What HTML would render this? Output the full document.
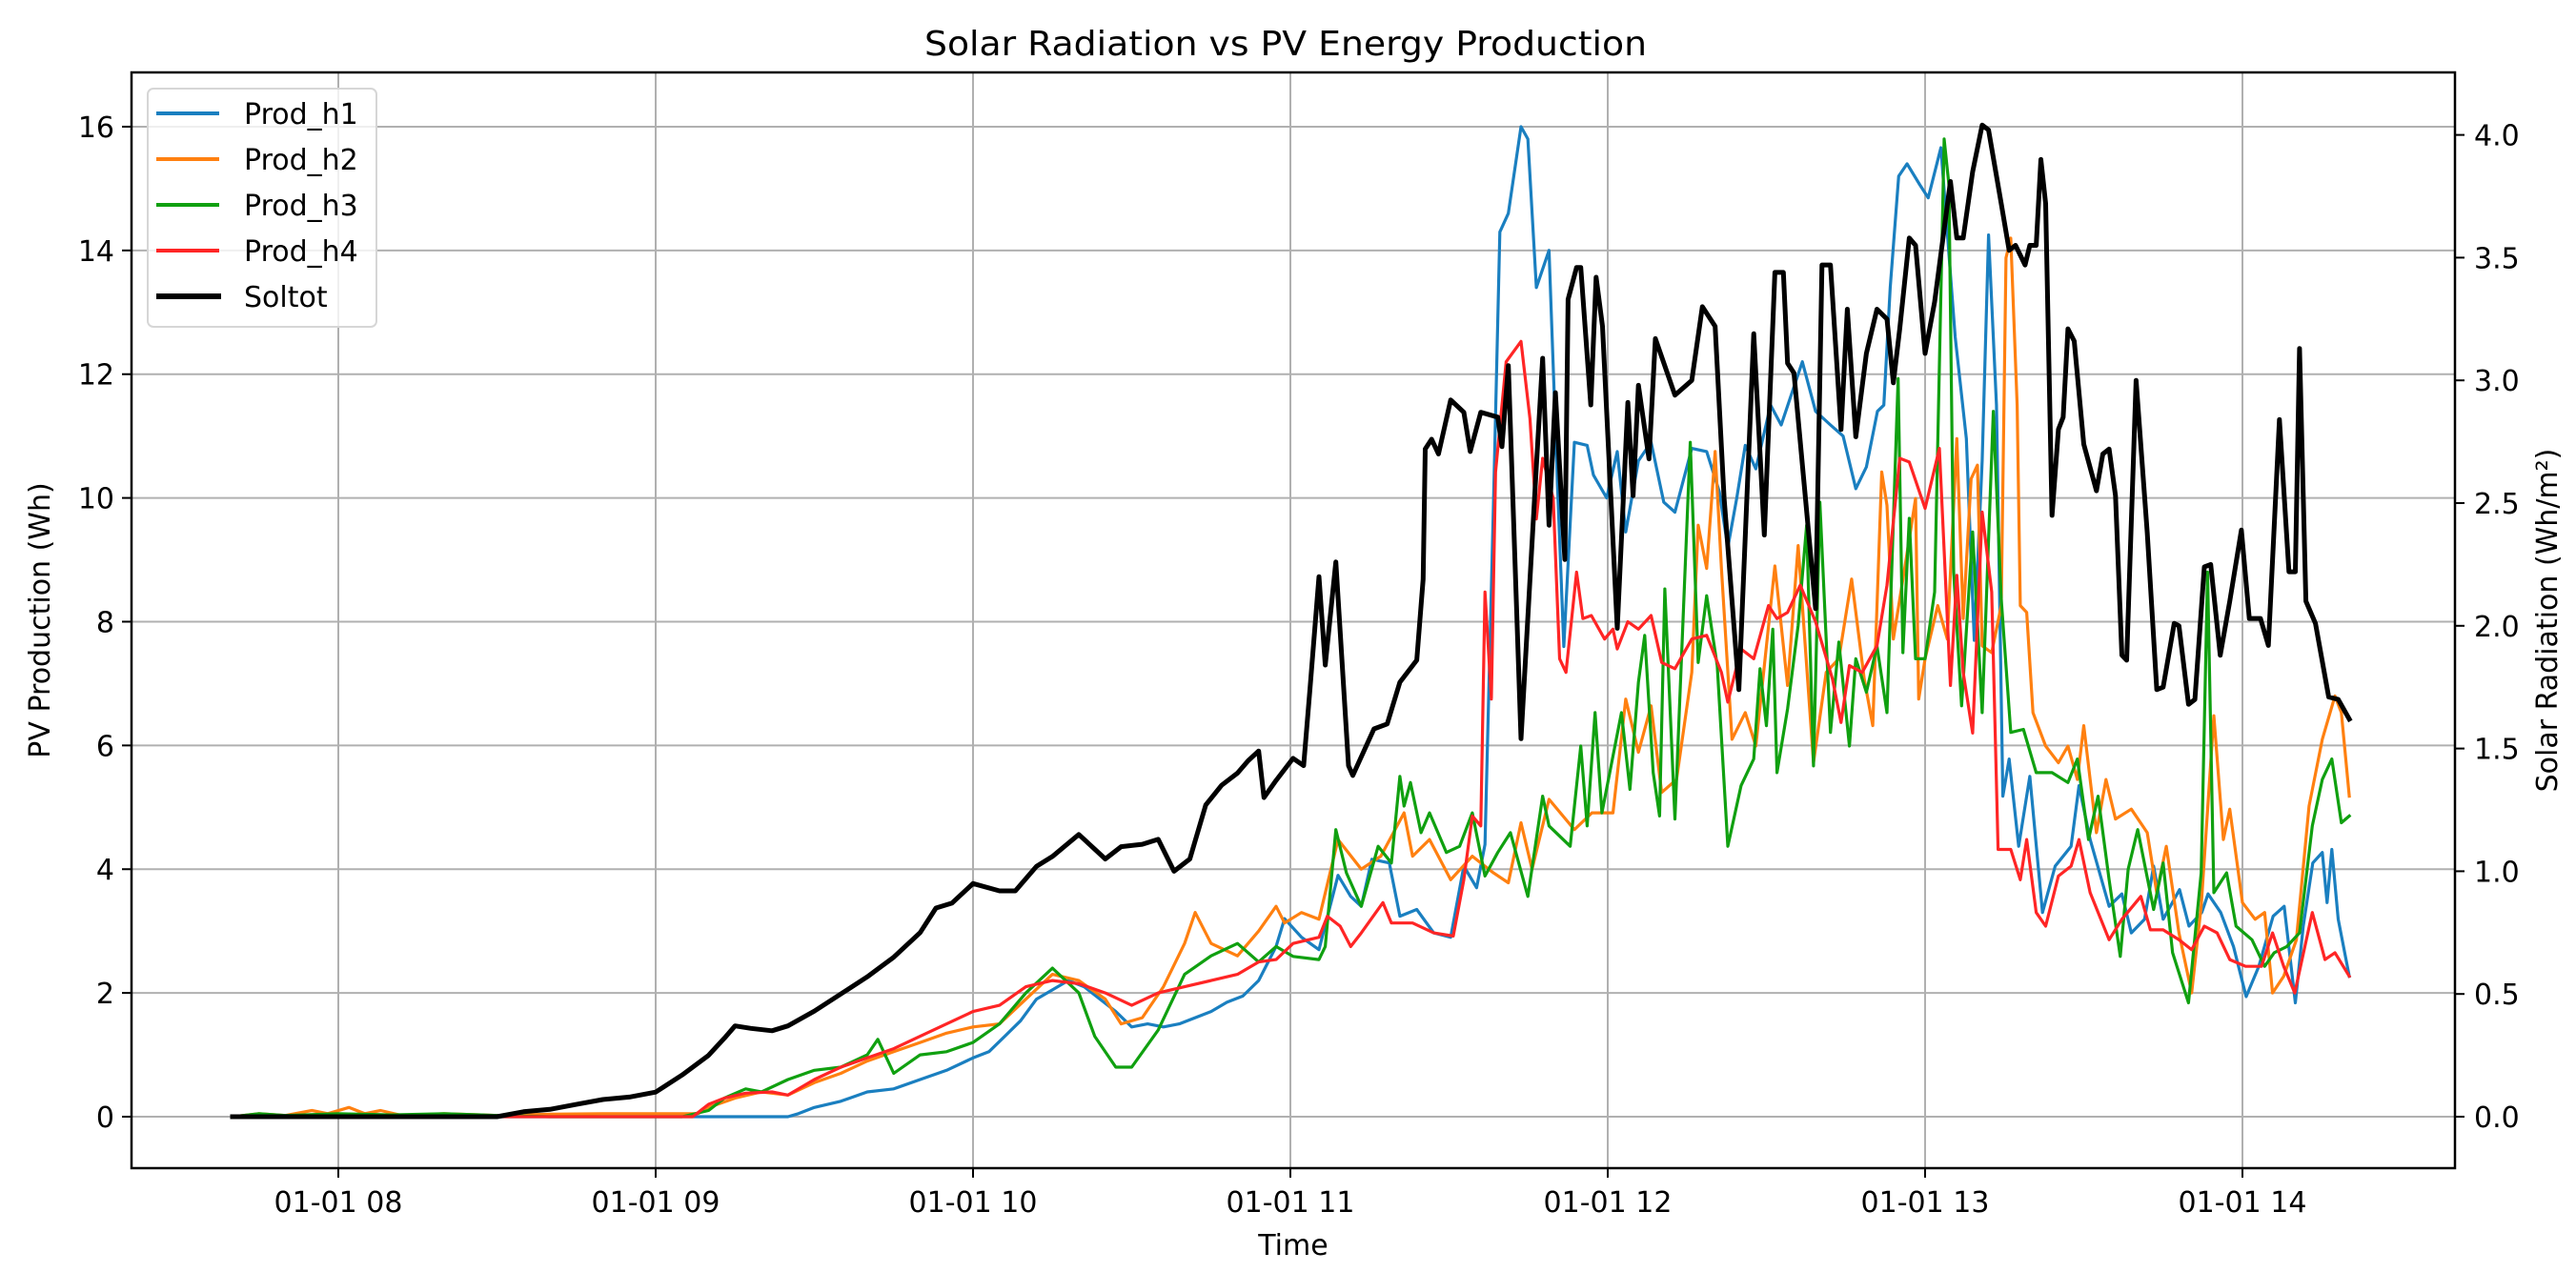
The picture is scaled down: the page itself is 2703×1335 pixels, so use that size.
<!DOCTYPE html>
<html><head><meta charset="utf-8"><title>Solar Radiation vs PV Energy Production</title>
<style>
html,body{margin:0;padding:0;background:#fff;}
svg{display:block;font-family:"DejaVu Sans","Liberation Sans",sans-serif;}
</style></head>
<body>
<svg id="chart" width="2703" height="1335" viewBox="0 0 2703 1335" xmlns="http://www.w3.org/2000/svg">
<rect x="0" y="0" width="2703" height="1335" fill="#fff"/>
<g id="grid"></g>
<g id="series"></g>
<g id="axes"></g>
<text x="1349" y="58" font-size="36" text-anchor="middle" textLength="758" lengthAdjust="spacingAndGlyphs" fill="#000">Solar Radiation vs PV Energy Production</text>
<text x="1357" y="1317" font-size="30" text-anchor="middle" fill="#000">Time</text>
<text x="0" y="0" font-size="30" text-anchor="middle" fill="#000" transform="translate(52,651) rotate(-90)">PV Production (Wh)</text>
<text x="0" y="0" font-size="30" text-anchor="middle" fill="#000" transform="translate(2683,651) rotate(-90)">Solar Radiation (Wh/m²)</text>
<g id="legend">
<rect x="155" y="93" width="240" height="250" rx="6" fill="#fff" fill-opacity="0.8" stroke="#d6d6d6" stroke-width="2"/>
<g><line x1="164" y1="119" x2="230" y2="119" stroke="#1a7fc0" stroke-width="4"/><text x="256" y="130" font-size="30">Prod_h1</text></g>
<g><line x1="164" y1="167" x2="230" y2="167" stroke="#ff8010" stroke-width="4"/><text x="256" y="178" font-size="30">Prod_h2</text></g>
<g><line x1="164" y1="215" x2="230" y2="215" stroke="#10a010" stroke-width="4"/><text x="256" y="226" font-size="30">Prod_h3</text></g>
<g><line x1="164" y1="263" x2="230" y2="263" stroke="#ff2525" stroke-width="4"/><text x="256" y="274" font-size="30">Prod_h4</text></g>
<g><line x1="164" y1="311" x2="232" y2="311" stroke="#000" stroke-width="6"/><text x="256" y="322" font-size="30">Soltot</text></g>
</g>
</svg>
<script>
// ---- data (time in minutes of day, values) ----
const xTickHours = [8, 9, 10, 11, 12, 13, 14];
const xTickLabels = ["01-01 08", "01-01 09", "01-01 10", "01-01 11", "01-01 12", "01-01 13", "01-01 14"];
const yTicks = [0, 2, 4, 6, 8, 10, 12, 14, 16];
const y2Ticks = [0.0, 0.5, 1.0, 1.5, 2.0, 2.5, 3.0, 3.5, 4.0];
const seriesNames = ["Prod_h1", "Prod_h2", "Prod_h3", "Prod_h4", "Soltot"];

const h1T = [460,565,567,570,575,580,585,590,595,600,603,606,609,612,615,618,621,624,627,630,633,636,639,642,645,648,651,654,657.3,658.9,662.1,665.4,669,671.4,673.4,675.4,678.7,680.7,683.9,687.1,690.3,692.8,695.2,696.8,698.4,699.6,701.2,703.6,704.9,706.5,708.9,710.5,711.7,713.7,716.1,717.3,719.8,721.8,723.4,725.8,728.2,730.6,732.7,735.9,738.7,741.1,742.7,744.4,746,748,750.8,752.8,756.8,759.3,762.1,764.5,766.9,768.9,771,772.2,773.4,775,776.6,779,780.6,783,785.7,787.8,789.3,790.8,792,793.5,794.7,795.9,797.7,799.8,802.2,804.6,807.6,809.1,811.2,814.8,817.2,819,821.5,823.2,825,828.1,829.9,832.3,833.5,835.9,838.3,840.7,843.1,845.8,847.9,850,851.5,853.3,855.1,856,856.9,858.1,860.2];
const h1V = [0,0,0.05,0.15,0.25,0.4,0.45,0.6,0.75,0.95,1.05,1.3,1.55,1.9,2.05,2.2,2.1,1.9,1.7,1.45,1.5,1.45,1.5,1.6,1.7,1.85,1.95,2.2,2.75,3.2,2.9,2.7,3.9,3.56,3.4,4.16,4.1,3.24,3.35,2.97,2.9,4.05,3.7,4.4,9.9,14.3,14.6,16.0,15.8,13.4,14.0,10.2,7.6,10.9,10.85,10.37,10.0,10.75,9.45,10.6,10.9,9.93,9.77,10.8,10.75,10.1,9.2,10.0,10.85,10.47,11.5,11.18,12.2,11.4,11.18,11.0,10.15,10.5,11.4,11.5,13.4,15.2,15.4,15.06,14.85,15.66,12.6,10.96,7.7,10.6,14.25,11.5,5.18,5.78,4.37,5.5,3.3,4.05,4.37,5.35,4.48,3.4,3.6,2.97,3.19,4.05,3.19,3.67,3.08,3.3,3.6,3.3,2.75,1.94,2.43,3.24,3.4,1.84,3.08,4.1,4.27,3.46,4.32,3.19,2.27];

const h2T = [460,465,470,475,478,482,485,488,492,500,510,520,530,540,548,550,555,560,565,570,575,580,585,590,595,600,605,610,615,620,625,628,632,636,640,642,645,650,654,657.3,658.9,662.1,665.4,669,673.4,677.1,681.5,683.1,686.3,690.3,694.4,698.4,701.2,703.6,705.7,708.9,713.7,717,721,723.4,725.8,728.2,730.2,733,735.9,737.1,738.7,740.3,741.5,743.5,746,748,751.6,754,756,758.9,761.3,763.7,766.1,768.5,770.1,771.8,772.8,774,776.4,778.2,778.8,780,782.4,784.2,786,787.2,788.7,789.9,790.8,792.6,794.4,795.3,796.2,797.4,798,799.2,800.4,802.8,805.2,807,808.8,810,812.4,814.2,816,819,822,823.8,825.6,828,830.4,832.2,834.6,836.4,837.6,840,842.4,844.2,845.7,847.8,850.2,852.6,855.1,857.5,858.7,860.2];
const h2V = [0,0.05,0.02,0.1,0.05,0.15,0.05,0.1,0.02,0.05,0.02,0.04,0.05,0.05,0.05,0.15,0.3,0.4,0.35,0.55,0.7,0.9,1.05,1.2,1.35,1.45,1.5,1.9,2.3,2.2,1.9,1.5,1.6,2.1,2.8,3.3,2.8,2.6,3.0,3.4,3.13,3.3,3.19,4.48,4.0,4.21,4.91,4.21,4.48,3.83,4.21,3.94,3.78,4.75,4.0,5.13,4.64,4.91,4.91,6.75,5.89,6.64,5.24,5.45,7.18,9.56,8.86,10.75,8.86,6.1,6.53,5.99,8.9,6.97,9.23,5.72,7.18,7.4,8.69,7.07,6.32,10.42,9.88,7.72,9.0,9.99,6.75,7.4,8.26,7.72,10.96,8.05,10.31,10.53,7.61,7.5,8.26,13.88,14.2,11.5,8.26,8.15,6.53,5.99,5.72,5.99,5.45,6.32,4.59,5.45,4.81,4.97,4.59,3.62,4.37,2.97,2.0,3.4,6.48,4.48,4.97,3.46,3.19,3.3,2.0,2.27,2.86,5.02,6.1,6.8,6.53,5.18];

const h3T = [460,465,470,480,490,500,510,520,545,550,553,557,560,565,570,575,580,582,585,590,595,600,605,610,615,620,623,627,630,635,640,645,650,654,657.3,660.5,665.4,666.6,668.6,670.6,673.4,676.6,679.1,680.7,681.5,682.7,684.7,686.3,689.5,692,694.4,696.8,699.2,701.6,704.9,707.7,708.9,712.9,714.9,716.1,717.6,718.9,722.6,724.2,725.8,727,728.6,729.8,730.8,732.7,735.6,737.1,738.7,740.7,742.7,745.2,747.6,748.8,750,751.2,752,754,756,757.6,758.9,760.1,762.1,763.7,765.7,766.9,768.9,770.9,772.8,774.9,775.8,777,778.2,780,781.8,783.6,784.5,785.4,786.9,789,790.8,792.9,794.4,796.2,798.6,801,804,807,808.8,810.9,812.7,814.8,816.9,818.4,820.2,823.2,825,826.8,829.8,832.2,833.4,834.6,837,838.8,841.8,844.2,846,848.4,850.8,853.2,855.1,856.9,858.7,860.2];
const h3V = [0,0.05,0.02,0.05,0.03,0.05,0.02,0,0,0.1,0.3,0.45,0.4,0.6,0.75,0.8,1.0,1.25,0.7,1.0,1.05,1.2,1.5,2.0,2.4,2.0,1.3,0.8,0.8,1.4,2.3,2.6,2.8,2.5,2.75,2.59,2.54,2.75,4.64,3.94,3.4,4.37,4.1,5.5,5.02,5.4,4.59,4.91,4.27,4.37,4.91,3.89,4.27,4.59,3.56,5.18,4.7,4.37,5.99,4.7,6.53,4.91,6.53,5.29,7.02,7.78,5.56,4.86,8.53,4.81,10.9,7.34,8.42,7.29,4.37,5.35,5.78,7.24,6.32,7.88,5.56,6.59,7.94,9.56,5.67,9.93,6.21,7.67,5.99,7.4,6.86,7.61,6.53,11.93,7.5,9.67,7.4,7.4,8.48,15.8,15.06,8.8,6.64,9.45,6.53,11.4,8.37,6.21,6.26,5.56,5.56,5.4,5.78,4.48,5.18,3.83,2.59,4.0,4.64,3.35,4.1,2.65,1.84,3.94,8.8,3.62,3.94,3.08,2.86,2.43,2.65,2.75,2.97,4.7,5.45,5.78,4.75,4.86];

const h4T = [460,547,550,553,557,562,565,570,575,580,585,590,595,600,605,610,615,620,625,630,635,640,645,650,654,657.3,660.5,665.4,667,669.4,671.4,673.4,677.5,679.1,683.1,687.1,690.8,692.8,694.4,696,696.8,698,698.8,700.8,703.6,705.3,706.5,707.7,709.7,710.9,712.1,714.1,715.3,716.9,719.4,721,721.8,723.8,725.8,728.2,730.2,732.7,735.9,738.7,741.5,742.7,745.2,747.6,750.4,752,754,756.4,759.3,762.5,764.1,765.7,768.1,770.9,772.8,775.2,777,780,782.7,784.8,786,787.2,789,790.8,792.6,793.8,796.2,798,799.2,801,802.8,805.2,807.6,809.1,811.2,814.8,817.2,820.8,822.6,825,828,830.4,832.8,835.2,837.6,840.6,843.6,845.7,847.8,849.9,853.2,855.6,857.5,860.2];
const h4V = [0,0,0.2,0.3,0.38,0.4,0.35,0.6,0.8,0.95,1.1,1.3,1.5,1.7,1.8,2.1,2.2,2.15,2.0,1.8,2.0,2.1,2.2,2.3,2.5,2.54,2.8,2.9,3.24,3.08,2.75,2.97,3.46,3.13,3.13,2.97,2.92,3.83,4.86,4.7,8.48,6.75,10.42,12.2,12.53,11.28,9.66,10.64,9.99,7.4,7.18,8.8,8.05,8.1,7.72,7.88,7.56,8.0,7.88,8.1,7.34,7.24,7.72,7.78,7.18,6.7,7.56,7.4,8.26,8.05,8.15,8.59,8.0,7.07,6.37,7.29,7.18,7.61,8.59,10.64,10.58,9.83,10.8,6.97,8.75,7.18,6.2,9.77,8.48,4.32,4.32,3.83,4.48,3.3,3.08,3.89,4.05,4.48,3.62,2.86,3.19,3.56,3.02,3.02,2.86,2.7,3.08,2.97,2.54,2.43,2.43,2.97,2.43,2.0,3.3,2.54,2.65,2.27];

const solT = [460,510,515,520,525,530,535,540,545,550,553,555,558,562,565,570,575,580,585,590,593,596,600,605,608,612,615,620,625,628,632,635,638,641,644,647,650,652,654,655,657.3,660.5,662.5,663.7,665.4,666.6,668.6,671,671.8,675.8,678.3,680.7,683.9,685.1,685.5,686.7,688,690.3,692.8,694,696,699.2,700,701.2,703.6,706.5,707.7,708.9,710.1,711.9,712.5,714.1,714.9,716.8,717.8,719,721.8,723.8,724.8,725.8,727.8,729,732.7,735.9,737.9,740.3,742,744.8,747.6,749.6,751.6,753.2,754,755.2,759.3,760.5,762.1,764.1,765.3,766.9,768.9,770.9,772.8,774,775.2,777,778.2,780,781.8,784.8,786,787.2,789,790.8,792,794.4,795.9,797.1,798.9,799.8,801,801.9,802.8,804,805.2,806.1,807,808.2,810,812.4,813.6,814.8,816,817.2,818.1,819.9,822,823.8,825,827.1,828,829.8,831,832.8,834,835.8,837.6,839.8,841.3,843.4,844.9,847,848.8,850,850.8,852,853.8,856.3,858.1,860.2];
const solV = [0,0,0.02,0.03,0.05,0.07,0.08,0.1,0.17,0.25,0.32,0.37,0.36,0.35,0.37,0.43,0.5,0.57,0.65,0.75,0.85,0.87,0.95,0.92,0.92,1.02,1.06,1.15,1.05,1.1,1.11,1.13,1.0,1.05,1.27,1.35,1.4,1.45,1.49,1.3,1.37,1.46,1.43,1.74,2.2,1.84,2.26,1.43,1.39,1.58,1.6,1.77,1.86,2.19,2.72,2.76,2.7,2.92,2.87,2.71,2.87,2.85,2.73,3.06,1.54,2.65,3.09,2.41,2.95,2.27,3.33,3.46,3.46,2.9,3.42,3.22,1.99,2.91,2.53,2.98,2.68,3.17,2.94,3.0,3.3,3.22,2.52,1.74,3.19,2.37,3.44,3.44,3.07,3.03,2.07,3.47,3.47,2.8,3.29,2.77,3.11,3.29,3.25,2.99,3.21,3.58,3.55,3.11,3.32,3.81,3.58,3.58,3.85,4.04,4.02,3.72,3.53,3.55,3.47,3.55,3.55,3.9,3.72,2.45,2.8,2.85,3.21,3.16,2.74,2.55,2.7,2.72,2.53,1.88,1.86,3.0,2.38,1.74,1.75,2.01,2.0,1.68,1.7,2.24,2.25,1.88,2.1,2.39,2.03,2.03,1.92,2.84,2.22,2.22,3.13,2.1,2.01,1.71,1.7,1.62];

// ---- axis functions ----
const PL = 138, PR = 2576, PT = 76, PB = 1226;
function xScale(min) { return 355 + (min - 480) / 60 * 333; }
function yScale(v) { return 1172 - v * 64.94; }
function y2Scale(v) { return 1172 - v * 257.6; }
const NS = "http://www.w3.org/2000/svg";
function mk(tag, attrs, parent) {
  const el = document.createElementNS(NS, tag);
  for (const k in attrs) el.setAttribute(k, attrs[k]);
  parent.appendChild(el);
  return el;
}
const grid = document.getElementById('grid');
const axes = document.getElementById('axes');
const series = document.getElementById('series');

xTickHours.forEach((h, i) => {
  const x = xScale(h * 60);
  const gl = mk('line', {x1: x, y1: PT, x2: x, y2: PB, stroke: '#b0b0b0', 'stroke-width': 2}, grid);
  
  
  const tk = mk('line', {x1: x, y1: PB, x2: x, y2: PB + 10, stroke: '#000', 'stroke-width': 2}, axes);
  
  
  const t = mk('text', {x: x, y: 1272, 'font-size': 30, 'text-anchor': 'middle', fill: '#000'}, axes);
  
  
  t.textContent = xTickLabels[i];
});
yTicks.forEach(v => {
  const y = yScale(v);
  const gl = mk('line', {x1: PL, y1: y, x2: PR, y2: y, stroke: '#b0b0b0', 'stroke-width': 2}, grid);
  
  
  const tk = mk('line', {x1: PL - 10, y1: y, x2: PL, y2: y, stroke: '#000', 'stroke-width': 2}, axes);
  
  
  const t = mk('text', {x: PL - 18, y: y + 11, 'font-size': 30, 'text-anchor': 'end', fill: '#000'}, axes);
  
  
  t.textContent = String(v);
});
y2Ticks.forEach(v => {
  const y = y2Scale(v);
  const tk = mk('line', {x1: PR, y1: y, x2: PR + 10, y2: y, stroke: '#000', 'stroke-width': 2}, axes);
  
  
  const t = mk('text', {x: PR + 20, y: y + 11, 'font-size': 30, 'text-anchor': 'start', fill: '#000'}, axes);
  
  
  t.textContent = v.toFixed(1);
});
const frame = mk('rect', {x: PL, y: PT, width: PR - PL, height: PB - PT, fill: 'none', stroke: '#000', 'stroke-width': 2.5}, axes);



function drawLine(T, V, scaleY, color, width, name) {
  const d = T.map((t, i) => (i ? 'L' : 'M') + xScale(t).toFixed(1) + ',' + scaleY(V[i]).toFixed(1)).join('');
  const p = mk('path', {d: d, fill: 'none', stroke: color, 'stroke-width': width, 'stroke-linejoin': 'round', 'stroke-linecap': 'square'}, series);
  
  
}
drawLine(h1T, h1V, yScale, '#1a7fc0', 3.2, 'prod-h1-line');
drawLine(h2T, h2V, yScale, '#ff8010', 3.2, 'prod-h2-line');
drawLine(h3T, h3V, yScale, '#10a010', 3.2, 'prod-h3-line');
drawLine(h4T, h4V, yScale, '#ff2525', 3.2, 'prod-h4-line');
drawLine(solT, solV, y2Scale, '#000', 5, 'soltot-line');
</script>
</body></html>
